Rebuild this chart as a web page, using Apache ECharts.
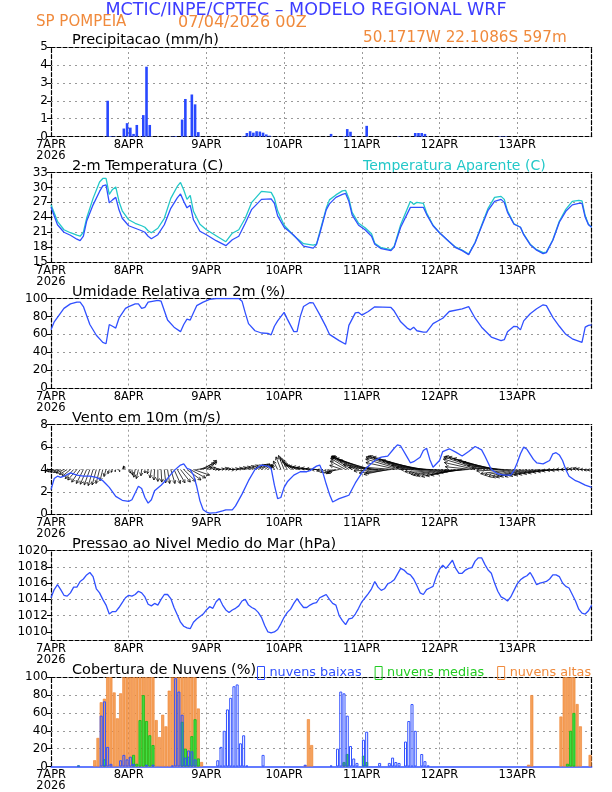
<!DOCTYPE html>
<html><head><meta charset="utf-8">
<script src="https://cdn.jsdelivr.net/npm/echarts@6/dist/echarts.min.js"></script>
<style>html,body{margin:0;padding:0;background:#fff}#c{width:612px;height:792px}</style>
</head><body><div id="c"></div>
<script>
// ---------------- DATA ----------------
const dayLabels = ['7APR','8APR','9APR','10APR','11APR','12APR','13APR'];
const yearLabel = '2026';

// Precipitation (mm/h), hour index (bar spans hour..hour+1)
const precipHours  = [17,18,19,22,23,24,25,26,28,29,30,37,38,40,41,43,44,45,59,60,61,62,63,64,65,66,67,86,90,91,92,97,107,112,113,114,115,138,139,140];
const precipValues = [2.0,0.03,0.02,0.45,0.75,0.5,0.15,0.65,1.2,3.9,0.65,0.02,0.03,0.95,2.1,2.35,1.8,0.25,0.03,0.2,0.3,0.22,0.3,0.28,0.22,0.12,0.05,0.15,0.03,0.42,0.27,0.6,0.02,0.2,0.2,0.2,0.15,0.02,0.02,0.02];

// 2-m temperature and apparent temperature (C)
const tempHours = [0,2,4,6,8,9,10,11,13,15,16,17,18,19,20,21,22,24,26,28,29,30,31,33,35,37,39,40,41,42,43,44,46,48,51,54,56,58,60,62,65,68,69,70,72,75,78,81,82,83,85,86,88,90,91,92,93,95,97,99,100,102,105,106,108,111,112,113,115,116,118,120,123,125,127,129,131,133,135,137,139,140,141,143,145,146,148,150,152,153,155,157,159,161,163,164,165,166,167];
const tempValues = [26.0,22.5,21.0,20.4,19.6,19.3,20.2,23.2,26.5,29.2,30.3,30.5,26.9,27.5,28.0,25.5,23.8,22.3,21.8,21.3,21.0,20.2,19.7,20.5,22.5,25.8,27.9,28.7,27.2,25.9,26.4,23.5,21.2,20.5,19.3,18.3,19.5,20.2,22.8,25.6,27.6,27.7,26.8,24.3,22.0,20.4,18.2,17.8,18.5,20.7,25.5,26.7,28.0,28.6,28.8,27.2,24.5,22.4,21.5,20.2,18.6,17.7,17.3,18.0,22.0,26.0,26.0,26.0,26.0,24.6,22.3,20.9,19.1,17.9,17.3,16.5,18.9,22.2,25.4,27.2,27.6,27.0,25.0,22.6,22.0,20.5,18.5,17.4,16.7,16.9,19.4,23.0,25.2,26.5,26.8,26.8,24.0,22.5,22.0];
const apparentValues = [26.5,23.2,21.5,20.9,20.4,20.2,21.0,23.8,27.8,31.1,31.8,31.8,28.6,29.6,30.1,27.2,25.3,23.5,22.8,22.3,22.0,21.3,20.9,21.8,23.8,27.8,30.2,31.0,29.5,27.6,28.4,25.2,22.6,21.5,20.3,19.1,20.8,21.5,23.8,27.0,29.2,29.0,27.8,25.3,22.4,20.3,18.7,18.4,18.6,21.0,25.8,27.5,28.5,29.3,29.4,27.8,25.0,22.8,21.9,20.7,18.8,17.9,17.5,18.2,22.5,27.2,26.6,27.0,26.8,24.9,22.4,20.9,19.1,18.0,17.4,16.6,19.0,22.4,25.8,28.0,28.2,27.6,25.3,22.7,22.0,20.6,18.6,17.5,16.9,17.0,19.5,23.2,25.6,27.2,27.4,27.3,24.3,22.6,22.0];

// Relative humidity 2 m (%)
const rhHours  = [0,1,4,6,8,9,10,12,14,16,17,18,19,20,21,23,24,26,27,28,29,30,33,34,36,38,40,41,42,43,44,45,47,49,51,58,59,60,61,63,65,67,68,69,70,72,73,75,76,77,78,80,81,83,84,85,86,89,91,92,94,95,96,98,100,105,106,108,110,111,112,113,115,116,118,120,121,123,127,129,131,133,136,139,140,141,143,144,145,146,148,150,152,153,155,157,159,161,164,165,166,167];
const rhValues = [65,74,89,94,96,96,91,71,59,51,49.5,71,69,67,78,89,91,94,94,89,90,96,98,97,76,68,63,71,77,76,84,92,96,99,100,100,97,84,72,64,61.5,61,59.5,69,75,84.5,77,63,63,80,91,95.5,95,82,75,68,60,53,49,70,84,84.5,81.5,85.5,90.7,90,86,74,67,65,68,64,62.5,62.5,72,76,78,85.5,88.5,91,78,68,57,53,54,63,69,68.5,65,75,83,88.5,93,92,79,69,60,55,51,68,70,70.5];

// Wind speed 10 m (m/s)
const wsHours  = [0,1,2,3,4,6,8,10,12,14,16,17,18,19,20,22,23,24,25,26,27,28,29,30,31,32,34,36,38,40,41,42,43,44,45,46,47,48,49,51,53,54,56,57,59,61,63,65,67,68,69,70,71,72,73,75,77,79,80,81,82,83,84,85,86,87,89,91,92,94,96,98,100,102,104,106,107,108,110,111,112,114,115,116,117,118,120,121,123,125,127,129,131,133,134,135,136,138,140,142,143,144,145,146,147,149,150,152,154,155,156,157,158,159,160,162,163,165,167];
const wsValues = [2.2,3.2,3.4,3.3,3.4,3.7,3.5,3.4,3.4,3.3,3.0,2.7,2.4,2.0,1.6,1.25,1.2,1.15,1.3,1.9,2.5,2.3,1.5,1.0,1.3,2.1,2.6,3.2,3.9,4.4,4.5,4.1,4.0,3.5,2.5,1.2,0.4,0.2,0.1,0.15,0.3,0.4,0.4,0.75,1.8,3.0,4.0,4.4,4.3,4.1,2.6,1.4,1.5,2.4,2.9,3.5,3.8,3.8,3.9,4.1,4.3,4.4,3.7,2.7,1.8,1.1,1.4,1.6,1.7,2.8,3.7,4.3,4.8,5.1,5.2,5.9,6.2,6.1,5.1,4.6,4.7,5.1,5.7,5.9,4.9,4.2,4.8,5.6,5.85,5.55,5.2,5.6,6.05,5.75,5.2,4.6,4.0,3.6,3.5,3.5,3.9,4.6,5.4,6.0,5.8,4.9,4.6,4.5,4.8,5.4,5.5,5.3,4.8,4.0,3.4,3.0,2.9,2.6,2.4];

// Wind vector components (m/s), hourly from 7APR 00Z
const windU = [-0.8,-0.9,-1.0,-1.0,-1.1,-1.1,-1.2,-1.2,-1.3,-1.2,
 -1.0,-0.9,-0.8,-0.7,-0.6,-0.5,-0.4,-0.3,-0.2,-0.2,
 -0.1,0.1,0.2,-0.3,0.3,0.1,-0.2,-0.3,-0.1,0.0,
 -0.1,-0.2,-0.1,0.0,0.1,0.2,0.3,0.6,0.9,1.1,
 1.4,1.7,2.0,2.2,2.3,2.2,2.1,1.9,1.5,0.8,
 0.7,0.6,0.7,0.8,0.7,0.8,0.9,1.0,1.1,1.2,
 1.3,1.4,1.5,1.5,1.4,1.2,1.0,0.6,0.2,-0.3,
 -0.6,-0.7,-0.8,-1.0,-1.2,-1.5,-1.8,-2.0,-2.1,-2.0,
 -1.9,-1.7,-1.5,-1.2,-0.9,-0.8,-0.7,-0.9,-1.2,-1.5,
 -1.8,-2.2,-2.6,-3.0,-3.4,-3.8,-4.2,-4.5,-4.6,-4.6,
 -4.5,-4.2,-3.9,-3.6,-3.4,-3.6,-4.0,-4.5,-5.0,-5.4,
 -5.6,-5.8,-5.8,-5.6,-5.4,-5.2,-5.0,-4.8,-4.6,-4.5,
 -4.4,-4.5,-4.6,-4.6,-4.4,-4.2,-4.0,-3.8,-3.6,-3.5,
 -3.8,-4.4,-5.0,-5.4,-5.6,-5.6,-5.4,-5.2,-5.0,-4.8,
 -4.6,-4.4,-4.3,-4.2,-4.1,-4.0,-3.9,-3.8,-3.6,-3.4,
 -3.2,-3.0,-2.8,-2.6,-2.4,-2.2,-2.0,-1.8,-1.6,-1.4,
 -1.2,-1.0,-0.9,-0.8,-0.8,-0.7,-0.6,-0.6];
const windV = [-0.2,-0.3,-0.3,-0.4,-0.5,-0.7,-1.0,-1.3,-1.5,-1.8,
 -2.0,-2.1,-2.2,-2.3,-2.2,-2.0,-1.6,-1.0,-0.6,-0.4,
 -0.3,-0.3,0.3,0.5,-0.5,-0.8,-1.1,-1.3,-0.9,-0.5,
 -0.6,-1.2,-1.5,-1.7,-1.8,-1.9,-2.0,-2.0,-2.0,-1.9,
 -1.8,-1.7,-1.5,-1.2,-0.8,0.3,0.9,1.3,1.1,0.3,
 0.1,0.0,0.1,0.2,0.1,0.0,0.1,0.2,0.3,0.4,
 0.5,0.6,0.6,0.7,0.7,0.8,0.7,0.6,0.5,0.7,
 1.2,1.8,2.0,1.7,1.4,1.1,0.8,0.6,0.5,0.4,
 0.3,0.2,0.1,0.0,-0.2,-0.4,-0.5,-0.6,-0.5,-0.3,
 0.6,1.2,1.6,1.8,1.9,1.9,1.9,1.8,1.6,1.3,
 0.7,0.3,-0.2,-0.5,-0.7,-0.5,0.3,1.0,1.5,1.8,
 1.9,1.9,1.8,1.6,1.3,1.0,0.6,0.3,0.0,-0.3,
 -0.5,-0.7,-0.8,-0.9,-1.0,-0.9,-0.8,-0.6,-0.4,-0.2,
 0.4,1.0,1.5,1.8,1.9,1.8,1.6,1.3,1.0,0.6,
 0.2,-0.2,-0.6,-0.8,-1.0,-1.1,-1.1,-1.0,-1.0,-0.9,
 -0.8,-0.7,-0.6,-0.5,-0.4,-0.3,-0.2,-0.1,-0.1,0.0,
 0.0,0.1,0.1,0.2,0.1,0.0,-0.1,-0.1];

// Mean sea level pressure (hPa), hourly from 7APR 00Z
const pressureValues = [1014.2,1015.2,1015.8,1015.2,1014.5,1014.4,1014.8,1015.5,1015.5,1016.2,
 1016.5,1017.0,1017.3,1016.8,1015.3,1014.8,1014.0,1013.3,1012.2,1012.5,
 1012.5,1013.0,1013.6,1014.2,1014.5,1014.4,1014.6,1015.0,1014.8,1014.3,
 1013.4,1013.2,1013.5,1013.3,1014.0,1014.6,1014.6,1014.1,1013.0,1012.1,
 1011.2,1010.7,1010.5,1010.4,1011.2,1011.6,1011.9,1012.2,1012.7,1013.1,
 1012.9,1013.7,1014.1,1013.3,1012.7,1012.4,1012.7,1012.9,1013.2,1013.8,
 1014.0,1013.3,1013.0,1012.8,1012.4,1011.8,1010.8,1010.0,1009.9,1010.0,
 1010.3,1011.0,1011.8,1012.4,1012.8,1013.5,1014.1,1013.5,1013.0,1013.0,
 1013.3,1013.5,1013.6,1014.2,1014.4,1014.6,1014.0,1013.5,1013.3,1012.0,
 1011.4,1010.9,1011.6,1011.7,1012.2,1012.9,1013.7,1014.2,1014.7,1015.3,
 1016.2,1015.5,1015.1,1015.3,1015.9,1016.1,1016.4,1017.1,1017.8,1017.6,
 1017.2,1017.0,1016.5,1015.7,1014.8,1014.6,1015.2,1015.4,1015.6,1016.8,
 1017.7,1018.2,1017.8,1018.3,1018.8,1017.8,1017.2,1017.2,1017.6,1017.8,
 1017.9,1018.7,1019.1,1019.1,1018.3,1017.6,1017.2,1016.0,1015.0,1014.3,
 1014.1,1013.8,1014.3,1015.1,1015.9,1016.4,1016.7,1016.9,1017.3,1016.6,
 1015.8,1016.0,1016.1,1016.2,1016.5,1017.0,1017.0,1016.8,1016.0,1015.6,
 1015.4,1014.6,1013.8,1012.8,1012.3,1012.2,1012.6,1013.3];
const pressureTicks = [1010,1012,1014,1016,1018,1020];

// Cloud cover (%), hour index (bar spans hour..hour+1)
const lowCloudHours  = [8,15,16,17,18,21,22,23,24,25,29,31,37,38,39,40,41,42,43,44,51,52,53,54,55,56,57,58,59,60,65,78,86,88,89,90,91,92,93,94,96,97,101,104,105,106,107,109,110,111,112,114,115,116];
const lowCloudValues = [1,57,73,22,3,7,13,8,11,3,2,2,1,99,84,58,10,18,17,8,7,22,40,64,77,90,92,26,35,1,13,2,1,20,84,82,57,23,9,4,30,39,4,4,10,5,4,28,51,70,40,14,6,1];
const midCloudHours  = [8,16,25,26,27,28,29,30,31,40,41,42,43,44,45,90,91,96,97,159,160,161];
const midCloudValues = [1,8,13,3,52,80,51,35,24,50,20,11,34,53,9,5,14,12,5,3,40,60];
const highCloudHours  = [13,14,15,16,17,18,19,20,21,22,23,24,25,26,27,28,29,30,31,32,33,34,35,36,37,38,39,40,41,42,43,44,45,46,78,79,80,90,147,148,157,158,159,160,161,162,163,166];
const highCloudValues = [7,32,72,76,100,100,83,54,82,100,100,100,100,100,100,100,100,100,100,52,33,58,45,85,100,100,100,100,100,100,100,100,65,5,1,53,24,4,2,80,56,100,100,100,100,70,45,13];

// ---------------- LAYOUT ----------------
const FONT = 'DejaVu Sans';
const BLUE = '#3050ff', CYAN = '#22c8c8', ORANGE = '#f08a3c', GREEN = '#22cc22';
const tops = [47, 172.5, 298.5, 424.7, 550.5, 677.3];
const gridH = 89.6;
const yCfg = [
  {min:0, max:5, interval:1},
  {min:15, max:33, interval:3},
  {min:0, max:100, interval:20},
  {min:0, max:8, interval:2},
  {min:1009, max:1020, interval:1, custom:pressureTicks},
  {min:0, max:100, interval:20}
];
const frameLine = {show:true, onZero:false, lineStyle:{color:'#000', width:1.2, type:[4,2]}};
const grids = tops.map(t => ({left:51, right:20.3, top:t, height:gridH}));
const xAxes = [], yAxes = [];
tops.forEach((t, i) => {
  xAxes.push({
    type:'value', gridIndex:i, min:0, max:167, interval:24,
    axisLine: i === 5 ? {show:true, onZero:false, lineStyle:{color:BLUE, width:1.5}} : frameLine,
    axisTick:{show:false},
    axisLabel:{fontFamily:FONT, fontSize:11.5, color:'#000', margin:3, lineHeight:11, showMaxLabel:false,
      formatter: v => (v % 24 === 0 && dayLabels[v/24]) ? dayLabels[v/24] + (v === 0 ? '\n' + yearLabel : '') : ''},
    splitLine:{show:true, showMinLine:false, showMaxLine:false, lineStyle:{color:'#9a9a9a', width:1, type:[2,3]}}
  });
});
tops.forEach((t, i) => {
  xAxes.push({type:'value', gridIndex:i, position:'top', min:0, max:167, axisLine:frameLine,
    axisTick:{show:false}, axisLabel:{show:false}, splitLine:{show:false}});
});
yCfg.forEach((c, i) => {
  const ax = {
    type:'value', gridIndex:i, min:c.min, max:c.max, interval:c.interval,
    axisLine:frameLine,
    axisTick:{show:true, length:4, lineStyle:{color:'#000'}},
    axisLabel:{fontFamily:FONT, fontSize:12, color:'#000', margin:3, formatter: v => String(v)},
    splitLine:{show:true, showMinLine:false, showMaxLine:false, lineStyle:{color:'#9a9a9a', width:1, type:[2,4]}}
  };
  if (c.custom) {
    ax.axisLabel.customValues = c.custom;
    ax.axisTick.customValues = c.custom;
  }
  yAxes.push(ax);
});
yCfg.forEach((c, i) => {
  yAxes.push({type:'value', gridIndex:i, position:'right', min:c.min, max:c.max, interval:c.interval,
    axisLine:frameLine, axisTick:{show:false}, axisLabel:{show:false}, splitLine:{show:false}});
});

const zip = (xs, ys) => xs.map((x, i) => [x, ys[i]]);
const barData = (xs, ys) => xs.map((x, i) => [x + 0.5, ys[i]]);
const lineStyle = (c) => ({color:c, width:1.3});
const VK = 7;           // vector pixels per m/s
const vectorBase = 4;   // vectors drawn from the 4 m/s level

const series = [
  {type:'bar', xAxisIndex:0, yAxisIndex:0, data:barData(precipHours, precipValues), barWidth:2.6,
   itemStyle:{color:'#2848ff'}, silent:true},
  {type:'line', xAxisIndex:1, yAxisIndex:1, data:zip(tempHours, apparentValues), showSymbol:false, lineStyle:lineStyle(CYAN), silent:true},
  {type:'line', xAxisIndex:1, yAxisIndex:1, data:zip(tempHours, tempValues), showSymbol:false, lineStyle:lineStyle(BLUE), silent:true},
  {type:'line', xAxisIndex:2, yAxisIndex:2, data:zip(rhHours, rhValues), showSymbol:false, lineStyle:lineStyle(BLUE), silent:true},
  {type:'custom', xAxisIndex:3, yAxisIndex:3, silent:true, z:1,
   data: windU.map((u, h) => [h, vectorBase, u, windV[h]]),
   renderItem: (params, api) => {
     const p = api.coord([api.value(0), api.value(1)]);
     const dx = api.value(2) * VK, dy = -api.value(3) * VK;
     const len = Math.hypot(dx, dy);
     if (len < 0.5) return null;
     const tip = [p[0] + dx, p[1] + dy];
     const ang = Math.atan2(dy, dx);
     const hl = Math.min(3.5, len * 0.6), ha = 0.5;
     const h1 = [tip[0] - hl * Math.cos(ang - ha), tip[1] - hl * Math.sin(ang - ha)];
     const h2 = [tip[0] - hl * Math.cos(ang + ha), tip[1] - hl * Math.sin(ang + ha)];
     return {type:'group', children:[
       {type:'line', shape:{x1:p[0], y1:p[1], x2:tip[0], y2:tip[1]}, style:{stroke:'#000', lineWidth:0.75}},
       {type:'polyline', shape:{points:[h1, tip, h2]}, style:{stroke:'#000', fill:null, lineWidth:0.75}}
     ]};
   }},
  {type:'line', xAxisIndex:3, yAxisIndex:3, z:3, data:zip(wsHours, wsValues), showSymbol:false, lineStyle:lineStyle(BLUE), silent:true},
  {type:'line', xAxisIndex:4, yAxisIndex:4, data:pressureValues.map((v, h) => [h, v]), showSymbol:false, lineStyle:lineStyle(BLUE), silent:true},
  {name:'nuvens altas', type:'bar', xAxisIndex:5, yAxisIndex:5, data:barData(highCloudHours, highCloudValues), barWidth:3, barGap:'-100%',
   itemStyle:{color:'#f5a25c', borderColor:'#ee7f2c', borderWidth:0.6}, silent:true},
  {name:'nuvens medias', type:'bar', xAxisIndex:5, yAxisIndex:5, data:barData(midCloudHours, midCloudValues), barWidth:3, barGap:'-100%',
   itemStyle:{color:'#44dd44', borderColor:'#11bb11', borderWidth:0.8}, silent:true},
  {name:'nuvens baixas', type:'bar', xAxisIndex:5, yAxisIndex:5, data:barData(lowCloudHours, lowCloudValues), barWidth:3, barGap:'-100%',
   itemStyle:{color:'rgba(255,255,255,0)', borderColor:BLUE, borderWidth:1}, silent:true}
];

const txt = (x, y, s, color, size, align) => ({type:'text', x:x, y:y, silent:true,
  style:{text:s, fill:color, font:`${size}px "${FONT}"`, textAlign:align || 'left', textVerticalAlign:'middle'}});
const panelTitles = ['Precipitacao (mm/h)', '2-m Temperatura (C)', 'Umidade Relativa em 2m (%)',
  'Vento em 10m (m/s)', 'Pressao ao Nivel Medio do Mar (hPa)', 'Cobertura de Nuvens (%)'];
const titleY = [40.5, 166, 292, 418, 544.5, 670.5];
const graphics = [
  txt(306, 10, 'MCTIC/INPE/CPTEC – MODELO REGIONAL WRF', '#3c3cff', 17.5, 'center'),
  txt(36, 22.5, 'SP POMPEIA', ORANGE, 15),
  txt(178, 22.5, '07/04/2026 00Z', ORANGE, 16),
  txt(363, 38.5, '50.1717W 22.1086S 597m', ORANGE, 15.2),
  txt(363, 166, 'Temperatura Aparente (C)', CYAN, 14)
].concat(panelTitles.map((s, i) => txt(72, titleY[i], s, '#000', 14.5)));

const chart = echarts.init(document.getElementById('c'), null, {renderer:'canvas'});
chart.setOption({
  animation:false,
  backgroundColor:'#fff',
  grid:grids, xAxis:xAxes, yAxis:yAxes, series:series, graphic:graphics,
  legend:{left:252, top:661, width:380, orient:'horizontal', itemWidth:7, itemHeight:13, itemGap:13, selectedMode:false,
    textStyle:{fontFamily:FONT, fontSize:12.8},
    data:[
      {name:'nuvens baixas', icon:'rect', itemStyle:{color:'rgba(255,255,255,0)', borderColor:BLUE, borderWidth:1}, textStyle:{color:BLUE}},
      {name:'nuvens medias', icon:'rect', itemStyle:{color:'rgba(255,255,255,0)', borderColor:GREEN, borderWidth:1}, textStyle:{color:GREEN}},
      {name:'nuvens altas', icon:'rect', itemStyle:{color:'rgba(255,255,255,0)', borderColor:ORANGE, borderWidth:1}, textStyle:{color:ORANGE}}
    ]}
});
</script></body></html>
